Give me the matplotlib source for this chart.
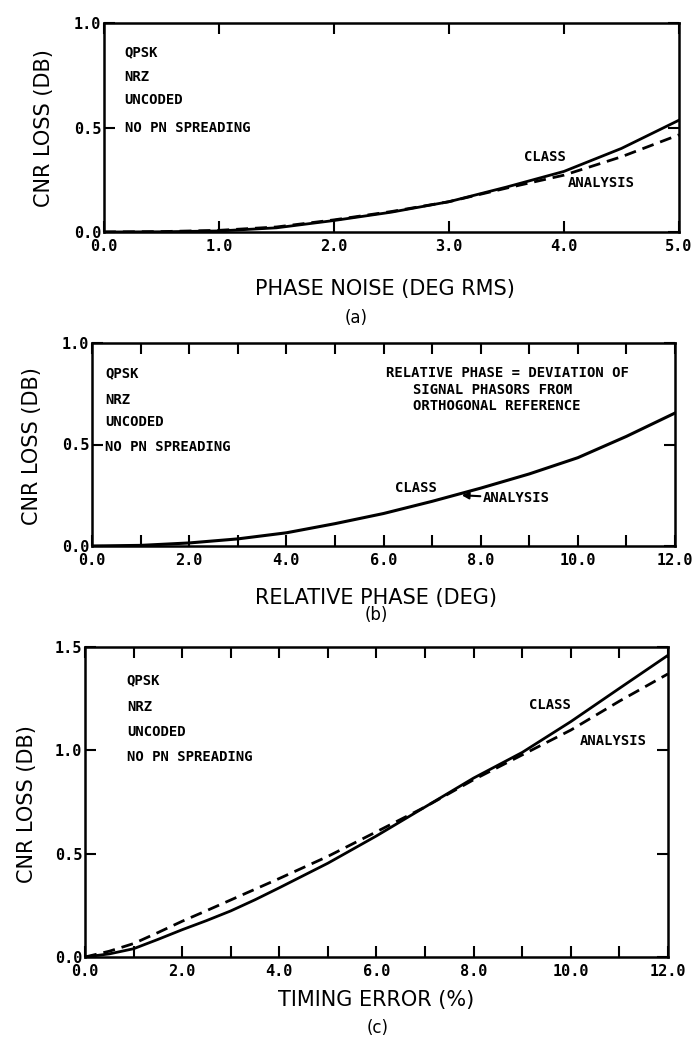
import numpy as np
import matplotlib
matplotlib.use("Agg")
import matplotlib.pyplot as plt
from matplotlib.ticker import MultipleLocator

# (a) phase noise
noise_deg = [0.0, 0.5, 1.0, 1.5, 2.0, 2.5, 3.0, 3.5, 4.0, 4.5, 5.0]
noise_class = [0.0, 0.001, 0.005, 0.02, 0.055, 0.095, 0.145, 0.215, 0.29, 0.40, 0.535]
noise_analysis = [0.0, 0.002, 0.008, 0.024, 0.058, 0.098, 0.145, 0.21, 0.272, 0.36, 0.465]

# (b) relative phase (class and analysis coincide)
phase_deg = [0, 1, 2, 3, 4, 5, 6, 7, 8, 9, 10, 11, 12]
phase_loss = [0.0, 0.003, 0.015, 0.035, 0.065, 0.11, 0.16, 0.22, 0.285, 0.355, 0.435, 0.54, 0.655]

# (c) timing error
timing_pct = [0, 0.5, 1, 1.5, 2, 2.5, 3, 3.5, 4, 5, 6, 7, 8, 9, 10, 11, 12]
timing_class = [0.0, 0.015, 0.04, 0.085, 0.132, 0.176, 0.223, 0.277, 0.335, 0.454, 0.586,
                0.726, 0.866, 0.99, 1.139, 1.30, 1.46]
timing_analysis = [0.0, 0.028, 0.065, 0.118, 0.173, 0.224, 0.276, 0.328, 0.38, 0.487, 0.606,
                   0.726, 0.858, 0.978, 1.098, 1.238, 1.37]

conditions = ["QPSK", "NRZ", "UNCODED", "NO PN SPREADING"]
phase_note = ["RELATIVE PHASE = DEVIATION OF", "SIGNAL PHASORS FROM", "ORTHOGONAL REFERENCE"]

W, H = 692, 1042
LABEL_FONT = ["Liberation Sans Narrow", "DejaVu Sans"]
MONO = ["DejaVu Sans Mono"]

fig = plt.figure(figsize=(W / 100, H / 100), dpi=100)


def px_axes(left, top, right, bottom):
    return fig.add_axes([left / W, 1 - bottom / H, (right - left) / W, (bottom - top) / H])


def style(ax, xmax, xmajor, xminor, ymax, yticks):
    ax.set_xlim(0, xmax)
    ax.set_ylim(0, ymax)
    for s in ax.spines.values():
        s.set_linewidth(1.8)
    ax.xaxis.set_major_locator(MultipleLocator(xmajor))
    ax.xaxis.set_minor_locator(MultipleLocator(xminor))
    ax.set_yticks(yticks)
    ax.tick_params(which="both", direction="in", top=True, right=True,
                   length=8, width=1.5)
    ax.tick_params(axis="x", pad=5)
    ax.tick_params(axis="y", pad=2)
    ax.xaxis.set_major_formatter(plt.FuncFormatter(lambda v, p: f"{v:.1f}"))
    ax.yaxis.set_major_formatter(plt.FuncFormatter(lambda v, p: f"{v:.1f}"))
    for lab in ax.get_xticklabels() + ax.get_yticklabels():
        lab.set_family(MONO)
        lab.set_weight("bold")
        lab.set_fontsize(11)


def note(ax, x, y, t, ha="left"):
    ax.text(x, y, t, family=MONO, weight="bold", fontsize=10, ha=ha, va="center")


def conds(ax, x, ys):
    for t, y in zip(conditions, ys):
        note(ax, x, y, t)


def under_text(xlabel, xc, y_label, tag, xt, y_tag, xy_ylabel):
    fig.text(xc / W, 1 - y_label / H, xlabel, family=LABEL_FONT, fontsize=15,
             ha="center", va="center")
    fig.text(xt / W, 1 - y_tag / H, tag, family=LABEL_FONT, fontsize=12,
             ha="center", va="center")
    fig.text(xy_ylabel[0] / W, 1 - xy_ylabel[1] / H, "CNR LOSS (DB)", family=LABEL_FONT,
             fontsize=15, rotation=90, ha="center", va="center")


# panel (a)
ax = px_axes(104, 23, 679, 232)
ax.plot(noise_deg, noise_class, color="black", lw=2)
ax.plot(noise_deg, noise_analysis, color="black", lw=2, dashes=(4.3, 2.5))
style(ax, 5.0, 1.0, 1.0, 1.0, [0.0, 0.5, 1.0])
conds(ax, 0.18, [0.86, 0.74, 0.63, 0.50])
note(ax, 3.83, 0.36, "CLASS", ha="center")
note(ax, 4.03, 0.235, "ANALYSIS")
under_text("PHASE NOISE (DEG RMS)", 385, 289, "(a)", 356, 318, (44, 128))

# panel (b)
ax = px_axes(92, 343, 675, 546)
ax.plot(phase_deg, phase_loss, color="black", lw=2.2)
style(ax, 12.0, 2.0, 1.0, 1.0, [0.0, 0.5, 1.0])
conds(ax, 0.27, [0.85, 0.72, 0.61, 0.49])
for t, x, y in zip(phase_note, [6.05, 6.6, 6.6], [0.85, 0.77, 0.69]):
    note(ax, x, y, t)
note(ax, 6.67, 0.286, "CLASS", ha="center")
ax.annotate("ANALYSIS", xy=(7.61, 0.25), xytext=(8.05, 0.236), family=MONO, weight="bold",
            fontsize=10, va="center", ha="left",
            arrowprops=dict(arrowstyle="-|>", color="black", lw=1.5, shrinkA=0, shrinkB=0))
under_text("RELATIVE PHASE (DEG)", 376, 598, "(b)", 376, 615, (32, 446))

# panel (c)
ax = px_axes(85, 647, 668, 957)
ax.plot(timing_pct, timing_class, color="black", lw=2)
ax.plot(timing_pct, timing_analysis, color="black", lw=2, dashes=(4.3, 2.5))
style(ax, 12.0, 2.0, 1.0, 1.5, [0.0, 0.5, 1.0, 1.5])
conds(ax, 0.86, [1.34, 1.21, 1.09, 0.97])
note(ax, 9.57, 1.22, "CLASS", ha="center")
note(ax, 10.19, 1.045, "ANALYSIS")
under_text("TIMING ERROR (%)", 376, 1000, "(c)", 378, 1028, (27, 804))

fig.savefig("out.png", dpi=100)
